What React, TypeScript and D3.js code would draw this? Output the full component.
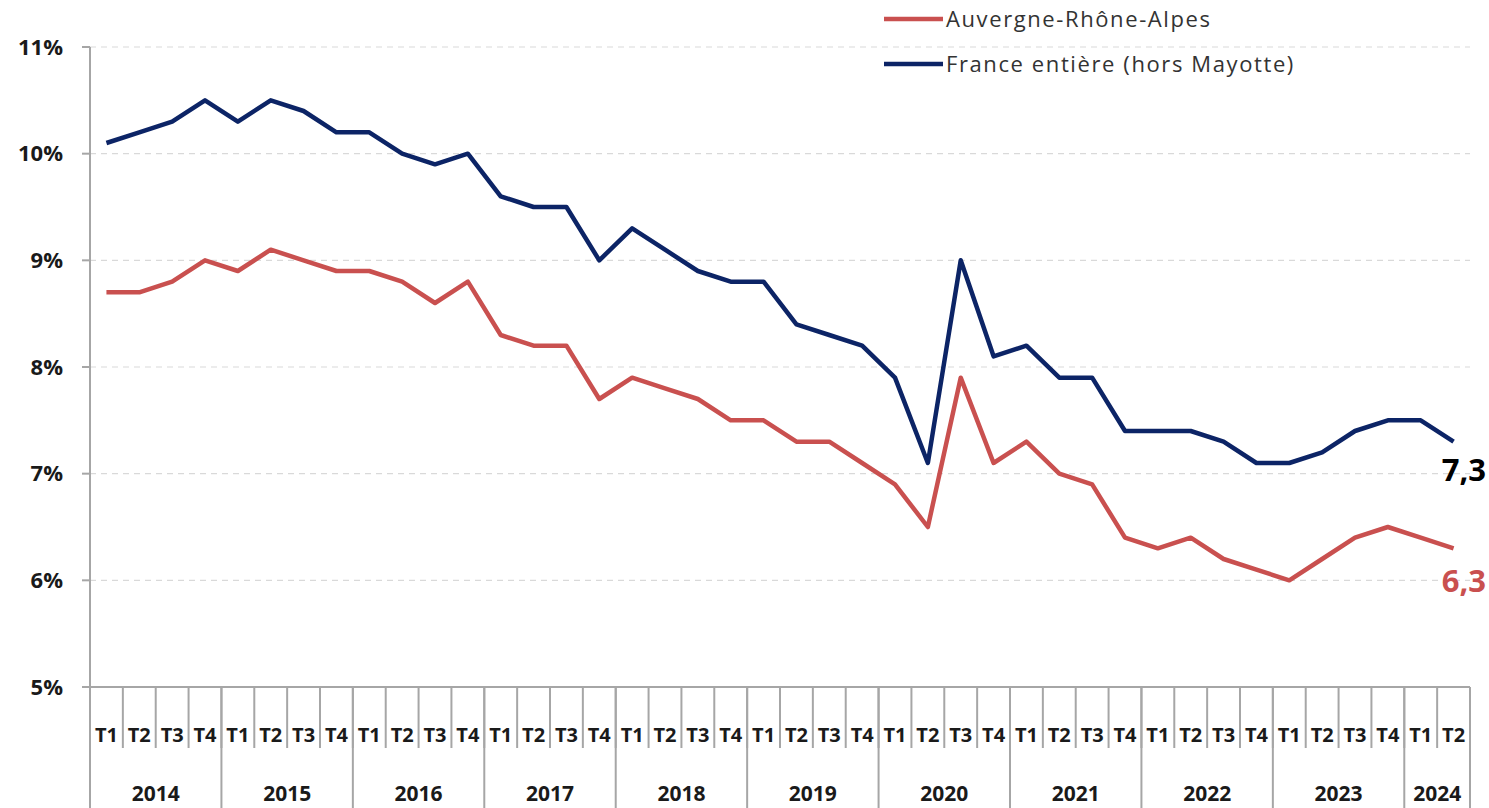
import React from "react";
import * as d3 from "d3";

const years = ["2014", "2015", "2016", "2017", "2018", "2019", "2020", "2021", "2022", "2023", "2024"];
const quartersPerYear = [4, 4, 4, 4, 4, 4, 4, 4, 4, 4, 2];
const quarterNames = ["T1", "T2", "T3", "T4"];
const franceValues = [
  10.1, 10.2, 10.3, 10.5,
  10.3, 10.5, 10.4, 10.2,
  10.2, 10.0, 9.9, 10.0,
  9.6, 9.5, 9.5, 9.0,
  9.3, 9.1, 8.9, 8.8,
  8.8, 8.4, 8.3, 8.2,
  7.9, 7.1, 9.0, 8.1,
  8.2, 7.9, 7.9, 7.4,
  7.4, 7.4, 7.3, 7.1,
  7.1, 7.2, 7.4, 7.5,
  7.5, 7.3,
];
const auraValues = [
  8.7, 8.7, 8.8, 9.0,
  8.9, 9.1, 9.0, 8.9,
  8.9, 8.8, 8.6, 8.8,
  8.3, 8.2, 8.2, 7.7,
  7.9, 7.8, 7.7, 7.5,
  7.5, 7.3, 7.3, 7.1,
  6.9, 6.5, 7.9, 7.1,
  7.3, 7.0, 6.9, 6.4,
  6.3, 6.4, 6.2, 6.1,
  6.0, 6.2, 6.4, 6.5,
  6.4, 6.3,
];
const yTicks = [5, 6, 7, 8, 9, 10, 11];
const seriesNames = ["Auvergne-Rhône-Alpes", "France entière (hors Mayotte)"];
const endLabels = ["6,3", "7,3"];

const BLUE = "#0c2466";
const RED = "#c9504f";
const FONT = "'Open Sans', 'DejaVu Sans', sans-serif";

export default function App() {
  const W = 1489, H = 808;
  const x0 = 90, x1 = 1470, yTop = 47, yBot = 687;

  const quarters: { q: string; year: string }[] = [];
  years.forEach((y, i) => {
    for (let k = 0; k < quartersPerYear[i]; k++) quarters.push({ q: quarterNames[k], year: y });
  });
  const keys = quarters.map((d, i) => d.year + d.q + i);

  const x = d3.scaleBand<string>().domain(keys).range([x0, x1]).padding(0);
  const y = d3.scaleLinear().domain([5, 11]).range([yBot, yTop]);
  const bw = x.bandwidth();
  const cx = (i: number) => (x(keys[i]) as number) + bw / 2;

  const line = d3.line<number>().x((_, i) => cx(i)).y((d) => y(d));

  const yearGroups: { year: string; start: number; end: number }[] = [];
  let idx = 0;
  years.forEach((yr, i) => {
    const s = idx;
    idx += quartersPerYear[i];
    yearGroups.push({ year: yr, start: s, end: idx });
  });
  const edge = (i: number) => (i < keys.length ? (x(keys[i]) as number) : x1);

  const lastI = keys.length - 1;

  return (
    <svg width={W} height={H} style={{ position: "absolute", left: 0, top: 0, background: "#fff" }} fontFamily={FONT}>
      {yTicks.filter((t) => t > 5).map((t) => (
        <line key={"g" + t} x1={x0} x2={x1} y1={y(t)} y2={y(t)} stroke="#d9d9d9" strokeWidth={1.2} strokeDasharray="6,5" />
      ))}
      <line x1={x0} x2={x0} y1={yTop} y2={808} stroke="#a6a6a6" strokeWidth={2} />
      {yTicks.map((t) => (
        <g key={"t" + t}>
          <line x1={x0 - 8} x2={x0} y1={y(t)} y2={y(t)} stroke="#a6a6a6" strokeWidth={2} />
          <text x={63} y={y(t)} dy="0.35em" textAnchor="end" fontSize={22} fontWeight={700} fill="#1a1a1a">{t}%</text>
        </g>
      ))}
      <line x1={x0} x2={x1} y1={yBot} y2={yBot} stroke="#a6a6a6" strokeWidth={2} />
      {keys.map((k, i) => i === 0 ? null : (
        <line key={"qs" + i} x1={edge(i)} x2={edge(i)} y1={yBot} y2={748} stroke="#a6a6a6" strokeWidth={2} />
      ))}
      {yearGroups.map((g, i) => (
        <line key={"ys" + i} x1={edge(g.end)} x2={edge(g.end)} y1={yBot} y2={808} stroke="#a6a6a6" strokeWidth={2} />
      ))}
      {quarters.map((d, i) => (
        <text key={"ql" + i} x={cx(i)} y={735} dy="0.35em" textAnchor="middle" fontSize={20} fontWeight={700} fill="#1a1a1a">{d.q}</text>
      ))}
      {yearGroups.map((g) => (
        <text key={"yl" + g.year} x={(edge(g.start) + edge(g.end)) / 2} y={794} dy="0.35em" textAnchor="middle" fontSize={21} fontWeight={700} fill="#1a1a1a">{g.year}</text>
      ))}
      <path d={line(franceValues) as string} fill="none" stroke={BLUE} strokeWidth={4.5} strokeLinejoin="round" />
      <path d={line(auraValues) as string} fill="none" stroke={RED} strokeWidth={4.5} strokeLinejoin="round" />
      <text x={1486} y={y(franceValues[lastI]) + 39} textAnchor="end" fontSize={31} fontWeight={700} fill="#000">{endLabels[1]}</text>
      <text x={1486} y={y(auraValues[lastI]) + 44} textAnchor="end" fontSize={31} fontWeight={700} fill={RED}>{endLabels[0]}</text>
      <line x1={884} x2={943} y1={19} y2={19} stroke={RED} strokeWidth={4.5} />
      <text x={946} y={19} dy="0.35em" fontSize={22} letterSpacing={1.6} fill="#333">{seriesNames[0]}</text>
      <line x1={884} x2={943} y1={64} y2={64} stroke={BLUE} strokeWidth={4.5} />
      <text x={946} y={64} dy="0.35em" fontSize={22} letterSpacing={1.6} fill="#333">{seriesNames[1]}</text>
    </svg>
  );
}
